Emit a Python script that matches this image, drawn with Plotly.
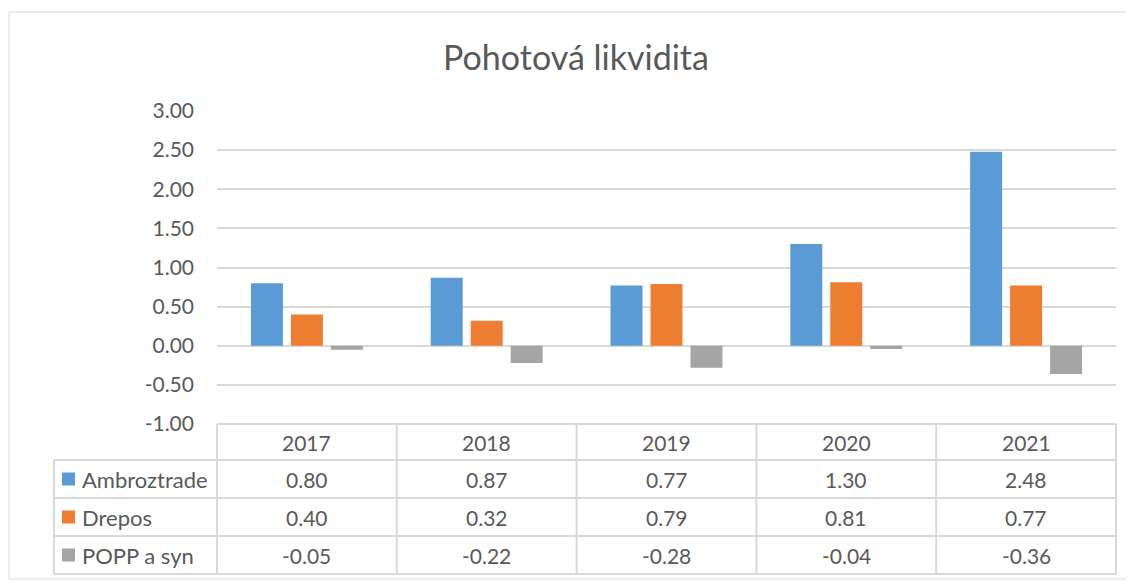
import plotly.graph_objects as go

# chart data
years = ["2017", "2018", "2019", "2020", "2021"]
ambroztrade = [0.80, 0.87, 0.77, 1.30, 2.48]
drepos = [0.40, 0.32, 0.79, 0.81, 0.77]
popp = [-0.05, -0.22, -0.28, -0.04, -0.36]
series_names = ["Ambroztrade", "Drepos", "POPP a syn"]
tick_vals = [-1.0, -0.5, 0.0, 0.5, 1.0, 1.5, 2.0, 2.5, 3.0]

colors = ["#5B9BD5", "#ED7D31", "#A5A5A5"]
series = [ambroztrade, drepos, popp]

# page puts the figure 8px in from the corner (body margin)
OFF = 8
W, H = 1134 - OFF, 581 - OFF
FONT = "Lato"
TXT = "#595959"
GRID = "#D9D9D9"


def px_x(p):
    return (p - OFF) / W


def px_y(p):
    return 1 - (p - OFF) / H


# plot area and table geometry (screen pixels)
plot_l, plot_r = 217, 1116
plot_t, plot_b = 111, 424
row_lines = [424, 460, 498, 536, 574]
label_l = 54

fig = go.Figure()
for name, vals, c in zip(series_names, series, colors):
    fig.add_trace(go.Bar(x=years, y=vals, name=name, marker=dict(color=c, line_width=0)))

fig.update_layout(
    width=W, height=H,
    margin=dict(l=0, r=0, t=0, b=0),
    paper_bgcolor="white", plot_bgcolor="white",
    showlegend=False,
    barmode="group", bargap=0.333, bargroupgap=0.2,
    font=dict(family=FONT, color=TXT, size=21),
    title=dict(text="Pohotová likvidita", x=px_x(576), xanchor="center", y=px_y(58), yanchor="middle",
               font=dict(family=FONT, size=34, color=TXT)),
)
fig.update_xaxes(type="category", domain=[px_x(plot_l), px_x(plot_r)], showticklabels=False,
                 showgrid=False, showline=False, zeroline=False, automargin=False,
                 range=[-0.5, len(years) - 0.5])
fig.update_yaxes(domain=[px_y(plot_b), px_y(plot_t)], range=[-1, 3], automargin=False,
                 tickvals=tick_vals, ticktext=[f"{v:.2f}" for v in tick_vals],
                 showgrid=True, gridcolor=GRID, gridwidth=2, zeroline=True, zerolinecolor=GRID,
                 zerolinewidth=2, showline=False, ticks="", ticklabelstandoff=22,
                 tickfont=dict(family=FONT, size=21, color=TXT))

line = dict(color=GRID, width=2)
# outer chart border
fig.add_shape(type="rect", xref="paper", yref="paper", x0=px_x(9), x1=px_x(1131),
              y0=px_y(579), y1=px_y(12), line=dict(color=GRID, width=1))
# table horizontal lines
for i, yy in enumerate(row_lines):
    x0 = plot_l if i == 0 else label_l
    fig.add_shape(type="line", xref="paper", yref="paper", x0=px_x(x0), x1=px_x(plot_r),
                  y0=px_y(yy), y1=px_y(yy), line=line)
# table vertical lines
col_w = (plot_r - plot_l) / len(years)
for j in range(len(years) + 1):
    xx = plot_l + j * col_w
    fig.add_shape(type="line", xref="paper", yref="paper", x0=px_x(xx), x1=px_x(xx),
                  y0=px_y(row_lines[0]), y1=px_y(row_lines[-1]), line=line)
fig.add_shape(type="line", xref="paper", yref="paper", x0=px_x(label_l), x1=px_x(label_l),
              y0=px_y(row_lines[1]), y1=px_y(row_lines[-1]), line=line)

# header years
hy = (row_lines[0] + row_lines[1]) / 2
for j, yr in enumerate(years):
    fig.add_annotation(x=j, xref="x", y=px_y(hy), yref="paper", text=yr, showarrow=False,
                       xanchor="center", yanchor="middle", font=dict(size=21, color=TXT))

# series rows
for r, (name, vals, c) in enumerate(zip(series_names, series, colors)):
    cy = (row_lines[r + 1] + row_lines[r + 2]) / 2
    fig.add_shape(type="rect", xref="paper", yref="paper", x0=px_x(62), x1=px_x(75),
                  y0=px_y(cy + 6.5), y1=px_y(cy - 6.5), line_width=0, fillcolor=c)
    fig.add_annotation(x=px_x(80), xref="paper", y=px_y(cy), yref="paper", text=name,
                       showarrow=False, xanchor="left", yanchor="middle",
                       font=dict(size=22, color=TXT))
    for j, v in enumerate(vals):
        fig.add_annotation(x=j, xref="x", y=px_y(cy), yref="paper", text=f"{v:.2f}",
                           showarrow=False, xanchor="center", yanchor="middle",
                           font=dict(size=21, color=TXT))

fig.write_html("out.html")
